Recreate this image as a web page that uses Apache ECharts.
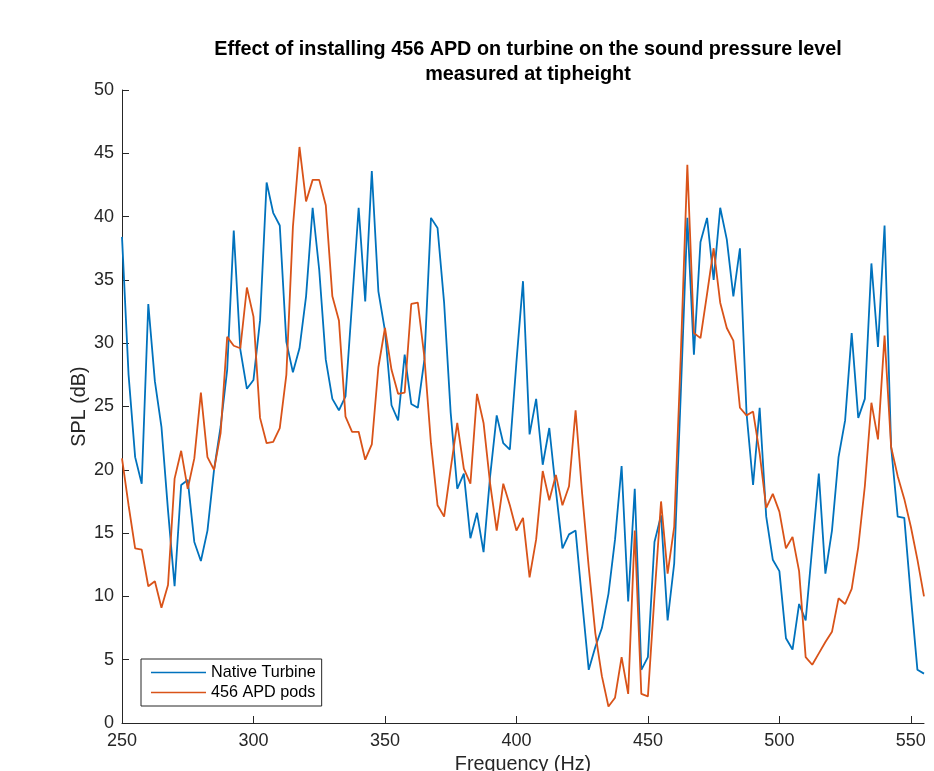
<!DOCTYPE html>
<html>
<head>
<meta charset="utf-8">
<script src="https://cdn.jsdelivr.net/npm/echarts@6/dist/echarts.min.js"></script>
<style>
  html, body { margin: 0; padding: 0; background: #fff; }
  #chart { width: 934px; height: 771px; }
</style>
</head>
<body>
<div id="chart"></div>
<script>
// frequencies (Hz)
var freq = [
  250, 252.5, 255, 257.5, 260, 262.5, 265, 267.5, 270, 272.5,
  275, 277.5, 280, 282.5, 285, 287.5, 290, 292.5, 295, 297.5,
  300, 302.5, 305, 307.5, 310, 312.5, 315, 317.5, 320, 322.5,
  325, 327.5, 330, 332.5, 335, 337.5, 340, 342.5, 345, 347.5,
  350, 352.5, 355, 357.5, 360, 362.5, 365, 367.5, 370, 372.5,
  375, 377.5, 380, 382.5, 385, 387.5, 390, 392.5, 395, 397.5,
  400, 402.5, 405, 407.5, 410, 412.5, 415, 417.5, 420, 422.5,
  425, 427.5, 430, 432.5, 435, 437.5, 440, 442.5, 445, 447.5,
  450, 452.5, 455, 457.5, 460, 462.5, 465, 467.5, 470, 472.5,
  475, 477.5, 480, 482.5, 485, 487.5, 490, 492.5, 495, 497.5,
  500, 502.5, 505, 507.5, 510, 512.5, 515, 517.5, 520, 522.5,
  525, 527.5, 530, 532.5, 535, 537.5, 540, 542.5, 545, 547.5,
  550, 552.5, 555
];

// SPL (dB), native turbine
var nativeSpl = [
  38.4, 27.5, 21.0, 18.9, 33.1, 27.0, 23.4, 16.8, 10.8, 18.8,
  19.2, 14.3, 12.8, 15.2, 20.0, 23.4, 27.9, 38.9, 29.5, 26.4,
  27.1, 31.8, 42.7, 40.3, 39.3, 30.1, 27.7, 29.6, 33.7, 40.7,
  35.8, 28.7, 25.6, 24.7, 25.8, 33.2, 40.7, 33.3, 43.6, 34.1,
  31.0, 25.1, 23.9, 29.1, 25.2, 24.9, 28.7, 39.9, 39.1, 33.2,
  24.5, 18.5, 19.7, 14.6, 16.6, 13.5, 19.5, 24.3, 22.1, 21.6,
  28.5, 34.9, 22.8, 25.6, 20.4, 23.3, 18.4, 13.8, 14.9, 15.2,
  9.6, 4.2, 6.0, 7.5, 10.2, 14.5, 20.3, 9.6, 18.5, 4.2,
  5.2, 14.3, 16.4, 8.1, 12.6, 26.0, 39.9, 29.1, 38.0, 39.9,
  35.0, 40.7, 38.2, 33.7, 37.5, 24.5, 18.8, 24.9, 16.3, 12.9,
  12.0, 6.7, 5.8, 9.4, 8.1, 13.9, 19.7, 11.8, 15.2, 21.0,
  23.9, 30.8, 24.1, 25.6, 36.3, 29.7, 39.3, 21.8, 16.3, 16.2,
  10.0, 4.2, 3.9
];

// SPL (dB), with 456 APD pods
var apdSpl = [
  20.9, 17.2, 13.8, 13.7, 10.8, 11.2, 9.1, 10.9, 19.3, 21.5,
  18.5, 20.9, 26.1, 21.0, 20.0, 22.9, 30.5, 29.8, 29.6, 34.4,
  32.1, 24.1, 22.1, 22.2, 23.3, 27.5, 39.2, 45.5, 41.2, 42.9,
  42.9, 40.9, 33.7, 31.8, 24.2, 23.0, 23.0, 20.8, 22.0, 28.1,
  31.2, 27.9, 26.0, 26.1, 33.1, 33.2, 28.9, 22.1, 17.2, 16.3,
  20.1, 23.7, 20.1, 18.9, 26.0, 23.7, 18.9, 15.2, 18.9, 17.2,
  15.2, 16.2, 11.5, 14.5, 19.9, 17.6, 19.6, 17.2, 18.7, 24.7,
  18.1, 12.3, 7.1, 3.7, 1.3, 2.0, 5.2, 2.3, 15.2, 2.3,
  2.1, 10.0, 17.5, 11.8, 15.5, 29.0, 44.1, 30.8, 30.4, 33.9,
  37.5, 33.2, 31.2, 30.2, 24.9, 24.3, 24.6, 21.3, 17.0, 18.1,
  16.7, 13.8, 14.7, 12.0, 5.2, 4.6, 5.5, 6.4, 7.2, 9.85,
  9.4, 10.6, 13.9, 18.7, 25.3, 22.4, 30.6, 21.8, 19.5, 17.7,
  15.5, 12.9, 10.0
];

var xTicks = [250, 300, 350, 400, 450, 500, 550];
var seriesNames = ['Native Turbine', '456 APD pods'];

function pairs(xs, ys) {
    var out = [];
    for (var i = 0; i < xs.length; i++) {
        out.push([xs[i], ys[i]]);
    }
    return out;
}

var chart = echarts.init(document.getElementById('chart'));
var axisColor = '#262626';
var font = 'Liberation Sans, Arial, Helvetica, sans-serif';

var option = {
    animation: false,
    backgroundColor: '#fff',
    title: {
        text: 'Effect of installing 456 APD on turbine on the sound pressure level\nmeasured at tipheight',
        left: 523,
        top: 32,
        textAlign: 'center',
        textStyle: {
            fontFamily: font,
            fontSize: 19.8,
            fontWeight: 'bold',
            color: '#000',
            lineHeight: 25
        }
    },
    legend: {
        data: seriesNames,
        orient: 'vertical',
        left: 141,
        top: 659,
        padding: [5, 6, 5, 10],
        itemGap: 3,
        itemWidth: 55,
        itemHeight: 1.5,
        icon: 'rect',
        borderColor: axisColor,
        borderWidth: 1,
        backgroundColor: '#fff',
        textStyle: { fontFamily: font, fontSize: 16.2, color: '#000', lineHeight: 17 }
    },
    grid: {
        left: 122,
        right: 10,
        top: 90,
        bottom: 48,
        outerBoundsMode: 'none'
    },
    xAxis: {
        type: 'value',
        min: 250,
        max: 555,
        interval: 50,
        name: 'Frequency (Hz)',
        nameLocation: 'middle',
        nameGap: 32,
        nameMoveOverlap: false,
        nameTextStyle: { fontFamily: font, fontSize: 19.8, color: axisColor },
        axisLine: { lineStyle: { color: axisColor, width: 1 } },
        axisTick: { inside: true, length: 7, customValues: xTicks, lineStyle: { color: axisColor } },
        axisLabel: { customValues: xTicks, margin: 9, fontFamily: font, fontSize: 18, color: axisColor },
        splitLine: { show: false }
    },
    yAxis: {
        type: 'value',
        min: 0,
        max: 50,
        interval: 5,
        name: 'SPL (dB)',
        nameLocation: 'middle',
        nameGap: 32,
        nameMoveOverlap: false,
        nameTextStyle: { fontFamily: font, fontSize: 19.8, color: axisColor },
        axisLine: { show: true, lineStyle: { color: axisColor, width: 1 } },
        axisTick: { show: true, inside: true, length: 7, lineStyle: { color: axisColor } },
        axisLabel: { margin: 8, fontFamily: font, fontSize: 18, color: axisColor },
        splitLine: { show: false }
    },
    series: [
        {
            name: seriesNames[0],
            type: 'line',
            symbol: 'none',
            color: '#0072BD',
            lineStyle: { width: 1.8 },
            data: pairs(freq, nativeSpl)
        },
        {
            name: seriesNames[1],
            type: 'line',
            symbol: 'none',
            color: '#D95319',
            lineStyle: { width: 1.8 },
            data: pairs(freq, apdSpl)
        }
    ]
};

chart.setOption(option);
</script>
</body>
</html>
